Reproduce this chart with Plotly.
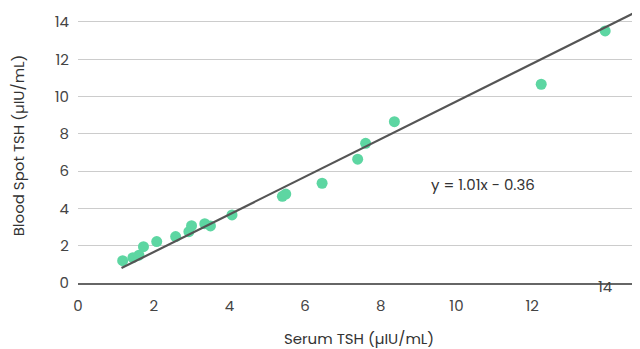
import plotly.graph_objects as go

serum_tsh = [1.18, 1.45, 1.61, 1.73, 2.08, 2.58, 2.93, 3.00, 3.35, 3.50, 4.07,
             5.40, 5.49, 6.45, 7.39, 7.60, 8.36, 12.24, 13.93]
blood_spot_tsh = [1.20, 1.36, 1.49, 1.95, 2.22, 2.49, 2.75, 3.07, 3.18, 3.06, 3.65,
                  4.65, 4.77, 5.35, 6.64, 7.49, 8.65, 10.66, 13.52]
slope = 1.01
intercept = -0.36
x_ticks = [0, 2, 4, 6, 8, 10, 12]
y_ticks = [0, 2, 4, 6, 8, 10, 12, 14]
x_max = 14.85
y_max = 14.75

trend_x = [min(serum_tsh) - 0.03, x_max]
trend_y = [slope * v + intercept for v in trend_x]

font = "Poppins, Lato, sans-serif"

fig = go.Figure()
fig.add_trace(go.Scatter(x=serum_tsh, y=blood_spot_tsh, mode="markers",
                         marker=dict(color="#5dd6a2", size=11, line=dict(width=0)),
                         showlegend=False, cliponaxis=False))
fig.add_trace(go.Scatter(x=trend_x, y=trend_y, mode="lines",
                         line=dict(color="#555555", width=2.2), showlegend=False))

fig.add_annotation(x=10.7, y=5.26, text="y = 1.01x - 0.36", showarrow=False,
                   font=dict(family=font, size=15, color="#333333"))
fig.add_annotation(x=14, y=0, yshift=-3, xshift=-3, text="14", showarrow=False,
                   font=dict(family=font, size=15, color="#444444"))

# page has an 8px body margin; the figure is sized to fill the remaining window
fig.update_layout(
    width=632, height=341,
    margin=dict(l=70, r=0, t=0, b=66),
    plot_bgcolor="white", paper_bgcolor="white",
    font=dict(family=font, size=15, color="#444444"),
    xaxis=dict(range=[0, x_max], tickvals=x_ticks, showgrid=False, zeroline=False,
               showline=True, linecolor="#666666", linewidth=1.5,
               ticks="", ticklabelstandoff=8,
               title=dict(text="Serum TSH (µIU/mL)", standoff=20,
                          font=dict(size=15, color="#333333"))),
    yaxis=dict(range=[0, y_max], tickvals=y_ticks, showgrid=True, gridcolor="#cccccc",
               gridwidth=1.3, zeroline=False, ticks="", ticklabelstandoff=8,
               title=dict(text="Blood Spot TSH (µIU/mL)", standoff=28,
                          font=dict(size=15, color="#333333"))),
)

fig.write_html("out.html")
